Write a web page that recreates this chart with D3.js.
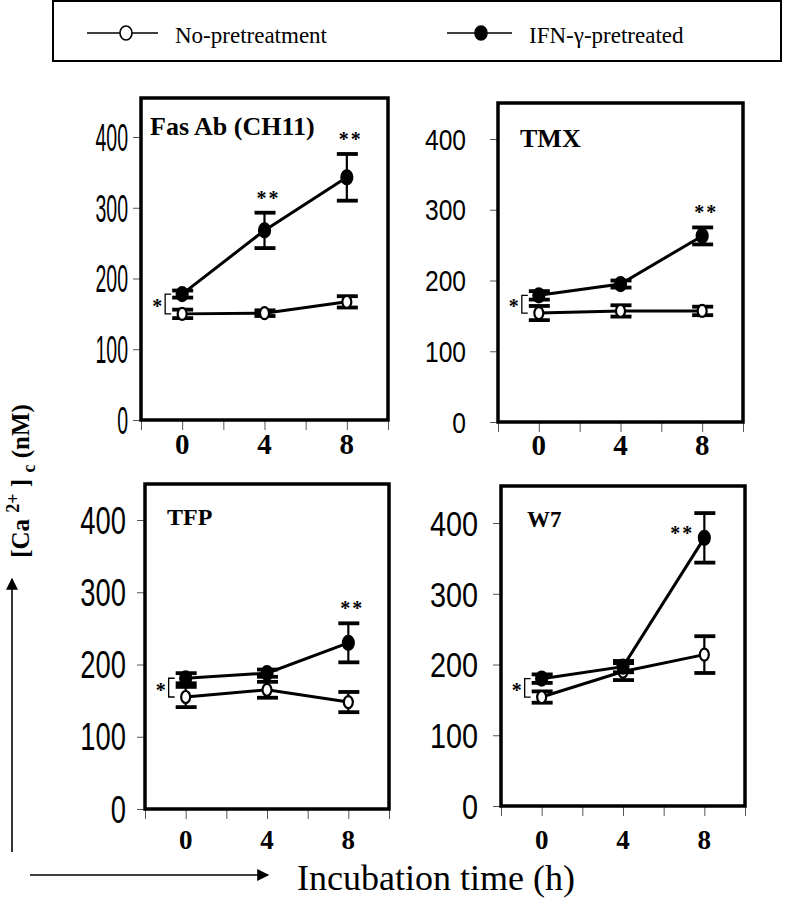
<!DOCTYPE html>
<html>
<head>
<meta charset="utf-8">
<script src="https://cdn.jsdelivr.net/npm/d3@7"></script>
<style>
  html, body { margin: 0; padding: 0; background: #fff; }
  svg { display: block; }
</style>
</head>
<body>
<svg id="chart" width="786" height="899"></svg>
<script>
// ---------------- DATA ----------------
const timePoints = [0, 4, 8];
const panelTitles = ["Fas Ab (CH11)", "TMX", "TFP", "W7"];
// IFN-γ-pretreated (filled circles)
const ifnMean = [[178, 268, 343], [179, 195, 263], [181, 188, 230], [180, 197, 379]];
const ifnErr  = [[5, 25, 33], [6, 5, 12], [7, 5, 27], [6, 8, 35]];
// No-pretreatment (open circles)
const noMean  = [[150, 151, 167], [154, 157, 157], [155, 165, 148], [154, 190, 214]];
const noErr   = [[6, 4, 8], [10, 8, 6], [14, 11, 14], [8, 12, 26]];
const doubleStarTimes = [[4, 8], [8], [8], [8]];
const yTickValues = [0, 100, 200, 300, 400];
const xTickValues = [-2, 0, 2, 4, 6, 8, 10];
const xTickLabels = [0, 4, 8];
const legendLabels = ["No-pretreatment", "IFN-\u03B3-pretreated"];
const yAxisTitle = ["[Ca ", "2+", " ] ", "c", " (nM)"];
const xAxisTitle = "Incubation time (h)";

// ---------------- LAYOUT ----------------
const layout = [
  {left: 141, right: 388, top: 98,  y0: 420, y400: 137, tlSize: 39, tlSx: 0.5, tlEnd: 128, xlY: 454, xlSize: 29, tX: 150, tY: 135, tSize: 26, starSide: "top"},
  {left: 498, right: 743, top: 103, y0: 422, y400: 139, tlSize: 30, tlSx: 0.82, tlEnd: 466, xlY: 455, xlSize: 29, tX: 520, tY: 147, tSize: 26, starSide: "top"},
  {left: 145, right: 389, top: 484, y0: 809, y400: 520, tlSize: 38, tlSx: 0.72, tlEnd: 126, xlY: 849, xlSize: 27, tX: 167, tY: 525, tSize: 24, starSide: "top"},
  {left: 501, right: 745, top: 486, y0: 806, y400: 523, tlSize: 36, tlSx: 0.80, tlEnd: 478, xlY: 849, xlSize: 27, tX: 527, tY: 527, tSize: 23, starSide: "left"}
];

const SERIF = "'Liberation Serif', 'Times New Roman', serif";
const SANS = "'Liberation Sans', Arial, sans-serif";

const svg = d3.select("#chart");

// arrow marker
const defs = svg.append("defs");
defs.append("marker").attr("id", "arrow")
  .attr("viewBox", "0 0 10 10").attr("refX", 9).attr("refY", 5)
  .attr("markerWidth", 16).attr("markerHeight", 12)
  .attr("markerUnits", "userSpaceOnUse").attr("orient", "auto")
  .append("path").attr("d", "M0,0 L10,5 L0,10 Z").attr("fill", "#000");

// ---------------- LEGEND ----------------
svg.append("rect").attr("x", 53).attr("y", 1).attr("width", 728).attr("height", 60)
  .attr("fill", "none").attr("stroke", "#000").attr("stroke-width", 2);
const legendItems = [
  {x1: 87, x2: 158, cx: 126, tx: 175, filled: false},
  {x1: 447, x2: 512, cx: 481, tx: 529, filled: true}
];
legendItems.forEach((it, i) => {
  svg.append("line").attr("x1", it.x1).attr("x2", it.x2).attr("y1", 33).attr("y2", 33)
    .attr("stroke", "#000").attr("stroke-width", 1.6);
  svg.append("ellipse").attr("cx", it.cx).attr("cy", 33).attr("rx", 6).attr("ry", 7)
    .attr("fill", it.filled ? "#000" : "#fff").attr("stroke", "#000").attr("stroke-width", 1.6);
  svg.append("text").attr("x", it.tx).attr("y", 43).text(legendLabels[i])
    .attr("font-family", SERIF).attr("font-size", 23).attr("fill", "#000");
});

// ---------------- PANELS ----------------
panelTitles.forEach((title, p) => {
  const L = layout[p];
  const x = d3.scaleLinear().domain([-2, 10]).range([L.left, L.right]);
  const y = d3.scaleLinear().domain([0, 400]).range([L.y0, L.y400]);
  const g = svg.append("g");

  // ticks via d3 axes
  const yAxis = g.append("g").attr("transform", `translate(${L.left},0)`)
    .call(d3.axisLeft(y).tickValues(yTickValues).tickSize(8).tickFormat(""));
  yAxis.select(".domain").remove();
  yAxis.selectAll(".tick line").attr("stroke", "#555").attr("stroke-width", 1);

  const xAxis = g.append("g").attr("transform", `translate(0,${L.y0})`)
    .call(d3.axisBottom(x).tickValues(xTickValues).tickSize(10).tickFormat(""));
  xAxis.select(".domain").remove();
  xAxis.selectAll(".tick line").attr("stroke", "#555").attr("stroke-width", 1);

  // y tick labels
  yTickValues.forEach(v => {
    g.append("text")
      .attr("transform", `translate(${L.tlEnd},${y(v) + 0.358 * L.tlSize}) scale(${L.tlSx},1)`)
      .attr("text-anchor", "end").attr("font-family", SANS).attr("font-size", L.tlSize)
      .attr("fill", "#000").text(v);
  });
  // x tick labels
  xTickLabels.forEach(v => {
    g.append("text").attr("x", x(v)).attr("y", L.xlY).attr("text-anchor", "middle")
      .attr("font-family", SERIF).attr("font-weight", "bold").attr("font-size", L.xlSize)
      .attr("fill", "#000").text(v);
  });

  // frame
  g.append("rect").attr("x", L.left).attr("y", L.top)
    .attr("width", L.right - L.left).attr("height", L.y0 - L.top)
    .attr("fill", "none").attr("stroke", "#000").attr("stroke-width", 3.5);

  // title
  g.append("text").attr("x", L.tX).attr("y", L.tY).text(title)
    .attr("font-family", SERIF).attr("font-weight", "bold").attr("font-size", L.tSize).attr("fill", "#000");

  const line = d3.line().x(d => x(d.t)).y(d => y(d.v));

  const series = [
    {mean: noMean[p], err: noErr[p], filled: false},
    {mean: ifnMean[p], err: ifnErr[p], filled: true}
  ];
  series.forEach(s => {
    const pts = timePoints.map((t, i) => ({t, v: s.mean[i], e: s.err[i]}));
    g.append("path").datum(pts).attr("d", line).attr("fill", "none")
      .attr("stroke", "#000").attr("stroke-width", 3);
    pts.forEach(d => {
      const cx = x(d.t);
      g.append("line").attr("x1", cx).attr("x2", cx)
        .attr("y1", y(d.v - d.e)).attr("y2", y(d.v + d.e))
        .attr("stroke", "#000").attr("stroke-width", 2.2);
      [d.v - d.e, d.v + d.e].forEach(cv => {
        g.append("line").attr("x1", cx - 10).attr("x2", cx + 11)
          .attr("y1", y(cv)).attr("y2", y(cv))
          .attr("stroke", "#000").attr("stroke-width", 3.8);
      });
    });
    pts.forEach(d => {
      g.append("ellipse").attr("cx", x(d.t)).attr("cy", y(d.v))
        .attr("rx", s.filled ? 5.5 : 4.5).attr("ry", s.filled ? 7 : 6)
        .attr("fill", s.filled ? "#000" : "#fff")
        .attr("stroke", "#000").attr("stroke-width", 2.2);
    });
  });

  // ** significance
  doubleStarTimes[p].forEach(t => {
    const i = timePoints.indexOf(t);
    let sx, sy;
    if (L.starSide === "top") {
      sx = x(t) + 4; sy = y(ifnMean[p][i] + ifnErr[p][i]) - 8;
    } else {
      sx = x(t) - 22; sy = y(ifnMean[p][i]) + 2;
    }
    g.append("text").attr("x", sx).attr("y", sy).attr("text-anchor", "middle")
      .attr("font-family", SERIF).attr("font-weight", "bold").attr("font-size", 20)
      .attr("letter-spacing", 2).attr("fill", "#000").text("**");
  });

  // * bracket at t = 0
  const bx = x(0) - 17;
  const yA = y(ifnMean[p][0]), yB = y(noMean[p][0]);
  g.append("path").attr("d", `M${bx + 6},${yA} H${bx} V${yB} H${bx + 6}`)
    .attr("fill", "none").attr("stroke", "#000").attr("stroke-width", 1.3);
  g.append("text").attr("x", bx - 8).attr("y", (yA + yB) / 2 + 9).attr("text-anchor", "middle")
    .attr("font-family", SERIF).attr("font-weight", "bold").attr("font-size", 20)
    .attr("fill", "#000").text("*");
});

// ---------------- AXIS TITLES ----------------
// vertical arrow + rotated label
svg.append("line").attr("x1", 12).attr("x2", 12).attr("y1", 852).attr("y2", 579)
  .attr("stroke", "#000").attr("stroke-width", 1.6).attr("marker-end", "url(#arrow)");
const yt = svg.append("text").attr("transform", "translate(29,481) rotate(-90)")
  .attr("text-anchor", "middle").attr("font-family", SERIF).attr("font-weight", "bold")
  .attr("font-size", 25).attr("fill", "#000");
yt.append("tspan").text(yAxisTitle[0]);
yt.append("tspan").attr("dy", -10).attr("font-size", 18).text(yAxisTitle[1]);
yt.append("tspan").attr("dy", 10).text(yAxisTitle[2]);
yt.append("tspan").attr("dy", 6).attr("font-size", 18).text(yAxisTitle[3]);
yt.append("tspan").attr("dy", -6).text(yAxisTitle[4]);

// horizontal arrow + label
svg.append("line").attr("x1", 30).attr("x2", 268).attr("y1", 875).attr("y2", 875)
  .attr("stroke", "#000").attr("stroke-width", 1.6).attr("marker-end", "url(#arrow)");
svg.append("text").attr("x", 297).attr("y", 890).text(xAxisTitle)
  .attr("font-family", SERIF).attr("font-size", 36).attr("fill", "#000");
</script>
</body>
</html>
